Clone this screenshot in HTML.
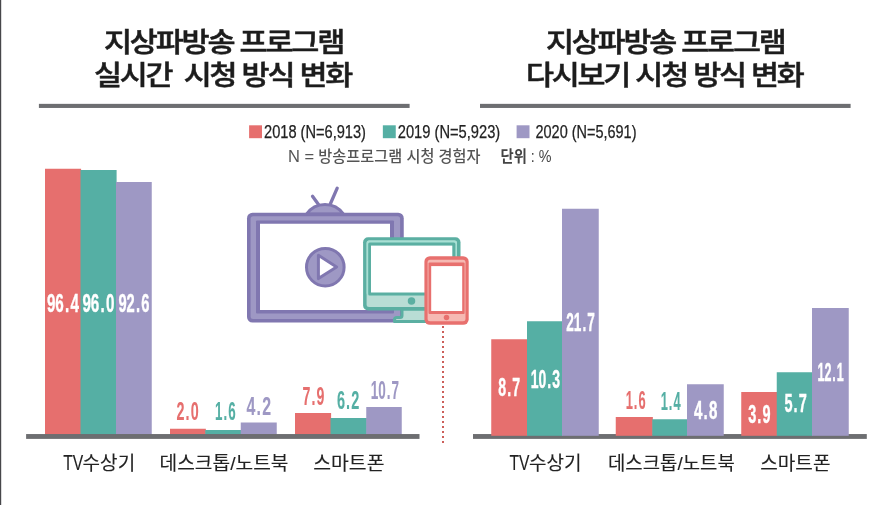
<!DOCTYPE html>
<html lang="ko"><head><meta charset="utf-8"><title>지상파방송 프로그램 시청 방식 변화</title>
<style>
html,body{margin:0;padding:0;background:#fff;}
body{width:887px;height:505px;overflow:hidden;position:relative;}
svg{position:absolute;left:0;top:0;display:block;}
.t{font-family:"Liberation Sans","Noto Sans CJK KR","NanumGothic",sans-serif;}
.k{font-family:"Liberation Sans","Noto Sans CJK KR","NanumGothic",sans-serif;}
.n{font-family:"Liberation Sans",sans-serif;font-weight:bold;}
</style></head><body>
<svg width="887" height="505" viewBox="0 0 887 505">
<rect x="0" y="0" width="887" height="505" fill="#fff"/>
<rect x="0" y="0" width="1.2" height="505" fill="#47474a"/>
<text class="k" x="104" y="52.2" font-size="27.3" font-weight="500" letter-spacing="-2" fill="#1c1c1c" stroke="#1c1c1c" stroke-width="0.5" textLength="239" lengthAdjust="spacingAndGlyphs" xml:space="preserve">지상파방송 프로그램</text>
<text class="k" x="94" y="84.8" font-size="27.3" font-weight="500" letter-spacing="-2" fill="#1c1c1c" stroke="#1c1c1c" stroke-width="0.5" textLength="257" lengthAdjust="spacingAndGlyphs" xml:space="preserve">실시간  시청 방식 변화</text>
<text class="k" x="546" y="52.2" font-size="27.3" font-weight="500" letter-spacing="-2" fill="#1c1c1c" stroke="#1c1c1c" stroke-width="0.5" textLength="238.5" lengthAdjust="spacingAndGlyphs" xml:space="preserve">지상파방송 프로그램</text>
<text class="k" x="526" y="84.8" font-size="27.3" font-weight="500" letter-spacing="-2" fill="#1c1c1c" stroke="#1c1c1c" stroke-width="0.5" textLength="276.5" lengthAdjust="spacingAndGlyphs" xml:space="preserve">다시보기 시청 방식 변화</text>
<rect x="38.9" y="103.85" width="370.7" height="4.1" fill="#6D6E71"/>
<rect x="480" y="103.85" width="370.6" height="4.1" fill="#6D6E71"/>
<rect x="249.1" y="125.3" width="12.9" height="12.9" fill="#E66F6E"/>
<text class="t" x="264" y="138.1" font-size="17.6" fill="#222" stroke="#222" stroke-width="0.25" textLength="102" lengthAdjust="spacingAndGlyphs">2018 (N=6,913)</text>
<rect x="382.85" y="125.3" width="12.9" height="12.9" fill="#55AFA4"/>
<text class="t" x="397.75" y="138.1" font-size="17.6" fill="#222" stroke="#222" stroke-width="0.25" textLength="102.5" lengthAdjust="spacingAndGlyphs">2019 (N=5,923)</text>
<rect x="516.6" y="125.3" width="12.9" height="12.9" fill="#9E98C4"/>
<text class="t" x="535.5" y="138.1" font-size="17.6" fill="#222" stroke="#222" stroke-width="0.25" textLength="101.0" lengthAdjust="spacingAndGlyphs">2020 (N=5,691)</text>
<text class="k" x="288" y="161.6" font-size="16" font-weight="500" fill="#555" textLength="192.5" lengthAdjust="spacingAndGlyphs"><tspan font-size="17.4">N =</tspan> 방송프로그램 시청 경험자</text>
<text class="k" x="500.5" y="161.6" font-size="16" font-weight="500" fill="#444" textLength="51" lengthAdjust="spacingAndGlyphs"><tspan font-weight="700">단위</tspan><tspan class="t" font-weight="400"> : %</tspan></text>
<rect x="45" y="168.75" width="36.1" height="266.25" fill="#E66F6E"/>
<rect x="80.5" y="170" width="36.1" height="265" fill="#55AFA4"/>
<rect x="116" y="182" width="35.75" height="253" fill="#9E98C4"/>
<rect x="170" y="428.75" width="35.85" height="6.25" fill="#E66F6E"/>
<rect x="205.25" y="430" width="36.1" height="5" fill="#55AFA4"/>
<rect x="240.75" y="422.5" width="36.0" height="12.5" fill="#9E98C4"/>
<rect x="295" y="413" width="36.1" height="22" fill="#E66F6E"/>
<rect x="330.5" y="418" width="36.35" height="17" fill="#55AFA4"/>
<rect x="366.25" y="407" width="35.5" height="28" fill="#9E98C4"/>
<rect x="26.1" y="434.05" width="393.4" height="4.85" fill="#6D6E71"/>
<rect x="473" y="434.05" width="393.8" height="4.85" fill="#6D6E71"/>
<rect x="491.25" y="339.25" width="36.35" height="96.55" fill="#E66F6E"/>
<rect x="527" y="321.25" width="35.6" height="114.55" fill="#55AFA4"/>
<rect x="562" y="208.75" width="36.75" height="227.05" fill="#9E98C4"/>
<rect x="615.75" y="417" width="37.1" height="18.8" fill="#E66F6E"/>
<rect x="652.25" y="419.25" width="35.35" height="16.55" fill="#55AFA4"/>
<rect x="687" y="384.25" width="36.75" height="51.55" fill="#9E98C4"/>
<rect x="741.25" y="392" width="36.1" height="43.8" fill="#E66F6E"/>
<rect x="776.75" y="372.25" width="35.85" height="63.55" fill="#55AFA4"/>
<rect x="812" y="308" width="36.75" height="127.8" fill="#9E98C4"/>
<text class="n" transform="translate(46.9 311.7) scale(0.5712 1)" font-size="26.6" fill="#fff" stroke="#fff" stroke-width="0.45">96<tspan dx="2.13">.</tspan><tspan dx="2.13">4</tspan></text>
<text class="n" transform="translate(82.4 311.7) scale(0.5712 1)" font-size="26.6" fill="#fff" stroke="#fff" stroke-width="0.45">96<tspan dx="2.13">.</tspan><tspan dx="2.13">0</tspan></text>
<text class="n" transform="translate(118.4 311.7) scale(0.5534 1)" font-size="26.6" fill="#fff" stroke="#fff" stroke-width="0.45">92<tspan dx="2.13">.</tspan><tspan dx="2.13">6</tspan></text>
<text class="n" transform="translate(176.4 420) scale(0.5384 1)" font-size="26.6" fill="#E66F6E" stroke="#E66F6E" stroke-width="0.1">2<tspan dx="2.13">.</tspan><tspan dx="2.13">0</tspan></text>
<text class="n" transform="translate(214.9 420) scale(0.5021 1)" font-size="26.6" fill="#55AFA4" stroke="#55AFA4" stroke-width="0.1">1<tspan dx="2.13">.</tspan><tspan dx="2.13">6</tspan></text>
<text class="n" transform="translate(246.4 415) scale(0.5991 1)" font-size="26.6" fill="#9E98C4" stroke="#9E98C4" stroke-width="0.1">4<tspan dx="2.13">.</tspan><tspan dx="2.13">2</tspan></text>
<text class="n" transform="translate(302.4 404.5) scale(0.5324 1)" font-size="26.6" fill="#E66F6E" stroke="#E66F6E" stroke-width="0.1">7<tspan dx="2.13">.</tspan><tspan dx="2.13">9</tspan></text>
<text class="n" transform="translate(336.9 408.75) scale(0.5445 1)" font-size="26.6" fill="#55AFA4" stroke="#55AFA4" stroke-width="0.1">6<tspan dx="2.13">.</tspan><tspan dx="2.13">2</tspan></text>
<text class="n" transform="translate(370.65 398.8) scale(0.5079 1)" font-size="26.6" fill="#9E98C4" stroke="#9E98C4" stroke-width="0.1">10<tspan dx="2.13">.</tspan><tspan dx="2.13">7</tspan></text>
<text class="n" transform="translate(498.15 396.25) scale(0.5324 1)" font-size="26.6" fill="#fff" stroke="#fff" stroke-width="0.45">8<tspan dx="2.13">.</tspan><tspan dx="2.13">7</tspan></text>
<text class="n" transform="translate(530.65 387.5) scale(0.5257 1)" font-size="26.6" fill="#fff" stroke="#fff" stroke-width="0.45">10<tspan dx="2.13">.</tspan><tspan dx="2.13">3</tspan></text>
<text class="n" transform="translate(566.15 330.5) scale(0.5123 1)" font-size="26.6" fill="#fff" stroke="#fff" stroke-width="0.45">21<tspan dx="2.13">.</tspan><tspan dx="2.13">7</tspan></text>
<text class="n" transform="translate(625.65 408.75) scale(0.4839 1)" font-size="26.6" fill="#E66F6E" stroke="#E66F6E" stroke-width="0.1">1<tspan dx="2.13">.</tspan><tspan dx="2.13">6</tspan></text>
<text class="n" transform="translate(660.65 410) scale(0.4839 1)" font-size="26.6" fill="#55AFA4" stroke="#55AFA4" stroke-width="0.1">1<tspan dx="2.13">.</tspan><tspan dx="2.13">4</tspan></text>
<text class="n" transform="translate(693.9 418.75) scale(0.5688 1)" font-size="26.6" fill="#fff" stroke="#fff" stroke-width="0.45">4<tspan dx="2.13">.</tspan><tspan dx="2.13">8</tspan></text>
<text class="n" transform="translate(748.15 422.5) scale(0.5445 1)" font-size="26.6" fill="#fff" stroke="#fff" stroke-width="0.45">3<tspan dx="2.13">.</tspan><tspan dx="2.13">9</tspan></text>
<text class="n" transform="translate(784.4 411.75) scale(0.5445 1)" font-size="26.6" fill="#fff" stroke="#fff" stroke-width="0.45">5<tspan dx="2.13">.</tspan><tspan dx="2.13">7</tspan></text>
<text class="n" transform="translate(817.4 380.5) scale(0.4722 1)" font-size="26.6" fill="#fff" stroke="#fff" stroke-width="0.45">12<tspan dx="2.13">.</tspan><tspan dx="2.13">1</tspan></text>
<text class="k" x="63.2" y="469.5" font-size="21.2" font-weight="400" fill="#222" stroke="#222" stroke-width="0.12" textLength="20.0" lengthAdjust="spacingAndGlyphs">TV</text>
<text class="k" x="82.6" y="469.5" font-size="19.2" font-weight="400" fill="#222" stroke="#222" stroke-width="0.12" textLength="52.6" lengthAdjust="spacingAndGlyphs">수상기</text>
<text class="k" x="159.5" y="469.5" font-size="19.2" font-weight="400" fill="#222" stroke="#222" stroke-width="0.12" textLength="129.0" lengthAdjust="spacingAndGlyphs">데스크톱/노트북</text>
<text class="k" x="313.25" y="469.5" font-size="19.2" font-weight="400" fill="#222" stroke="#222" stroke-width="0.12" textLength="71.25" lengthAdjust="spacingAndGlyphs">스마트폰</text>
<text class="k" x="509.5" y="469.5" font-size="21.2" font-weight="400" fill="#222" stroke="#222" stroke-width="0.12" textLength="20.0" lengthAdjust="spacingAndGlyphs">TV</text>
<text class="k" x="528.9" y="469.5" font-size="19.2" font-weight="400" fill="#222" stroke="#222" stroke-width="0.12" textLength="52.6" lengthAdjust="spacingAndGlyphs">수상기</text>
<text class="k" x="608" y="469.5" font-size="19.2" font-weight="400" fill="#222" stroke="#222" stroke-width="0.12" textLength="126.75" lengthAdjust="spacingAndGlyphs">데스크톱/노트북</text>
<text class="k" x="760.25" y="469.5" font-size="19.2" font-weight="400" fill="#222" stroke="#222" stroke-width="0.12" textLength="70.25" lengthAdjust="spacingAndGlyphs">스마트폰</text>
<line x1="443" y1="326" x2="443" y2="445" stroke="#CC5E5A" stroke-width="2" stroke-dasharray="2 3"/>
<g id="icons">
<path d="M312.5 196.3 L318.5 204.5 M337.2 188.2 L330.3 204" stroke="#8077B0" stroke-width="3.3" stroke-linecap="round" fill="none"/>
<path d="M306.5 214 A22.6 22.6 0 0 1 343.5 214 Z" fill="#9E98C4" stroke="#8077B0" stroke-width="3" stroke-linejoin="round"/>
<rect x="247" y="212.75" width="156.75" height="109.75" rx="5.5" fill="#8077B0"/>
<rect x="250.6" y="216.3" width="149.5" height="102.7" rx="2.5" fill="#9E98C4"/>
<rect x="256" y="220.6" width="138" height="93" rx="1" fill="#8077B0"/>
<rect x="260" y="223.75" width="130" height="86.25" fill="#fff"/>
<circle cx="325.3" cy="267.2" r="18.8" fill="#9E98C4" stroke="#8077B0" stroke-width="3"/>
<path d="M318.4 255.3 L336.6 266.9 L318.4 278.6 Z" fill="#fff" stroke="#8077B0" stroke-width="3" stroke-linejoin="round"/>
<path d="M402 309 L402 315.5 Q402 317.5 400 317.5 L397 317.5 Q394.5 317.5 394.5 319.5 L394.5 321.5 L429 321.5 L429 309 Z" fill="#B9DDD5" stroke="#5BAFA2" stroke-width="3" stroke-linejoin="round"/>
<rect x="363.1" y="237.25" width="97.4" height="73.2" rx="5" fill="#5BAFA2"/>
<rect x="366.6" y="240.6" width="90.4" height="66.3" rx="2.5" fill="#B9DDD5"/>
<rect x="366.6" y="240.6" width="90.4" height="55" rx="2.5" fill="#A8E0D4"/>
<rect x="368.2" y="242.4" width="87.2" height="53.2" rx="1.5" fill="#5BAFA2"/>
<rect x="371" y="245.6" width="81.3" height="46.9" fill="#fff"/>
<circle cx="411.5" cy="300.9" r="3.75" fill="#5BAFA2"/>
<rect x="424.4" y="256.25" width="44.3" height="68.6" rx="5.5" fill="#E8706E"/>
<rect x="427.6" y="259.8" width="37.9" height="61.5" rx="2.5" fill="#F6B9B3"/>
<rect x="428.5" y="262.5" width="36.1" height="51.5" rx="1" fill="#E8706E"/>
<rect x="431.2" y="266.1" width="31" height="44.9" fill="#fff"/>
<circle cx="446.5" cy="317.5" r="2.75" fill="#E8706E"/>
</g>
</svg>
</body></html>
